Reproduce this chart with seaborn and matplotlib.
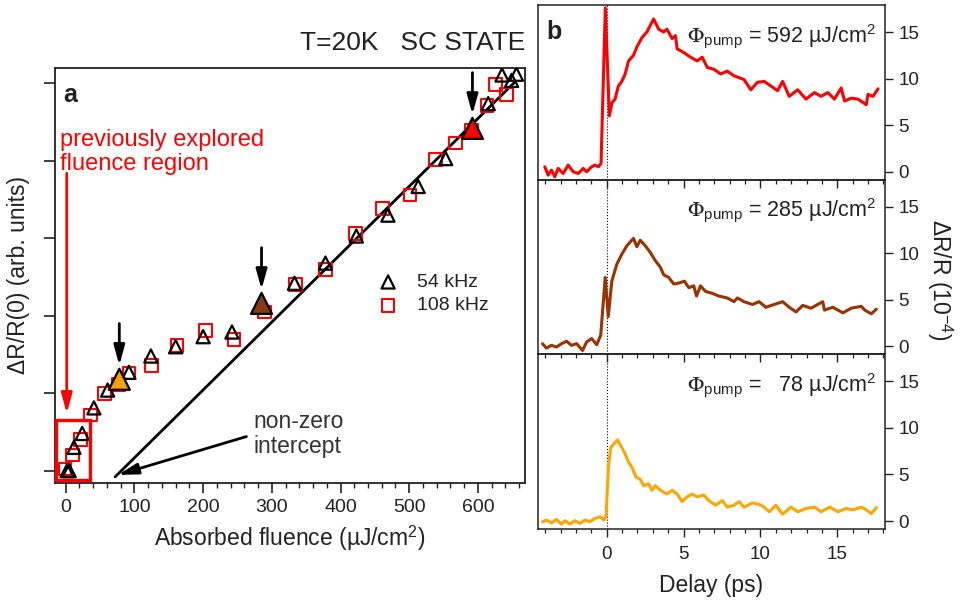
import matplotlib
matplotlib.use('Agg')
import matplotlib.pyplot as plt
import seaborn as sns
from matplotlib.patches import Rectangle
from matplotlib.ticker import MultipleLocator

# ---------------- data: panel a ----------------
fluence_54 = [2, 5, 12, 24, 41, 61, 92, 124, 160, 200, 242, 333, 378, 423, 469, 513, 553, 615, 635, 649, 656]
dr_54 = [0.0, 0.0, 0.30, 0.48, 0.81, 1.04, 1.27, 1.48, 1.60, 1.73, 1.79, 2.42, 2.68, 3.03, 3.30, 3.67, 4.03, 4.74, 5.11, 5.04, 5.12]

fluence_108 = [-1, 10, 22, 36, 56, 77, 92, 125, 162, 203, 245, 289, 334, 378, 422, 461, 501, 538, 567, 591, 613, 626, 642]
dr_108 = [0.02, 0.20, 0.40, 0.72, 1.00, 1.11, 1.26, 1.36, 1.62, 1.81, 1.69, 2.05, 2.40, 2.60, 3.06, 3.39, 3.56, 4.02, 4.23, 4.40, 4.72, 4.99, 4.86]

highlight_fluence = [78, 285, 592]
highlight_dr = [1.18, 2.16, 4.42]
highlight_names = ['78', '285', '592']
highlight_colors = ['#f5a200', '#8b3a0f', '#ff0000']

fit_fluence = [72, 655]
fit_dr = [-0.08, 5.03]

# ---------------- data: panel b ----------------
delay_592 = [-4.03, -3.81, -3.59, -3.38, -3.16, -2.83, -2.51, -2.18, -1.85, -1.53, -1.31, -0.98, -0.76, -0.54, -0.37,
             -0.09, 0.17, 0.34, 0.54, 0.76, 0.98, 1.20, 1.42, 1.74, 1.96, 2.29, 2.61, 3.05, 3.38, 3.70, 3.92, 4.25,
             4.47, 4.58, 5.01, 5.45, 5.88, 6.21, 6.54, 6.97, 7.41, 7.84, 8.28, 8.93, 9.37, 9.80, 10.24, 10.68, 11.11,
             11.44, 11.87, 12.42, 12.96, 13.51, 13.94, 14.38, 14.81, 15.25, 15.47, 15.90, 16.34, 16.88, 16.99, 17.32, 17.65]
signal_592 = [0.54, -0.36, 0.18, -0.54, 0.36, -0.18, 0.72, 0.0, -0.18, 0.36, 0.0, 0.54, 0.72, 0.54, 0.9,
              17.6, 6.0, 7.4, 7.8, 9.2, 9.7, 10.5, 11.9, 12.5, 13.4, 14.4, 15.0, 16.4, 15.3, 15.0, 15.3, 14.3,
              14.6, 13.2, 12.8, 12.3, 11.9, 12.3, 11.2, 11.0, 10.5, 10.8, 10.3, 9.9, 8.8, 9.6, 9.7, 9.2, 8.7,
              9.7, 8.1, 8.8, 7.8, 8.5, 8.1, 8.5, 7.8, 9.0, 7.6, 7.9, 7.8, 7.2, 8.3, 8.1, 8.9]

delay_285 = [-4.18, -3.92, -3.59, -3.27, -2.94, -2.61, -2.29, -1.96, -1.57, -1.31, -0.98, -0.65, -0.39, -0.10, 0.10,
             0.33, 0.65, 0.98, 1.31, 1.74, 1.96, 2.18, 2.51, 2.83, 3.16, 3.49, 3.70, 4.03, 4.36, 4.68,
             5.05, 5.34, 5.66, 5.84, 6.10, 6.43, 6.86, 7.30, 7.84, 8.28, 8.50, 8.93, 9.48, 9.91, 10.35,
             10.89, 11.44, 11.87, 12.31, 12.75, 13.29, 14.05, 14.16, 14.71, 15.36, 15.90, 16.56, 16.78, 17.21, 17.54]
signal_285 = [0.29, -0.18, 0.11, -0.07, 0.29, 0.55, 0.11, 0.29, -0.44, 0.47, 0.84, 0.18, 1.2, 7.4, 3.2,
              7.0, 8.8, 9.9, 10.8, 11.6, 10.7, 11.4, 10.8, 10.1, 9.2, 8.5, 7.7, 7.4, 6.7, 6.8,
              7.0, 6.3, 6.5, 5.4, 6.5, 5.9, 5.7, 5.4, 5.2, 4.8, 5.2, 4.8, 4.5, 4.8, 4.2,
              4.5, 4.8, 4.2, 3.7, 4.4, 4.1, 4.8, 3.9, 4.2, 3.6, 4.1, 4.3, 3.9, 3.5, 4.0]

delay_78 = [-4.18, -3.92, -3.59, -3.27, -2.94, -2.72, -2.40, -2.07, -1.74, -1.42, -1.09, -0.76, -0.44, -0.17, -0.04,
            0.11, 0.26, 0.48, 0.70, 0.98, 1.20, 1.42, 1.63, 1.92, 2.18, 2.40, 2.72, 2.94, 3.16, 3.49,
            3.92, 4.25, 4.58, 4.90, 5.23, 5.56, 5.88, 6.32, 6.64, 7.08, 7.52, 7.84, 8.28, 8.61, 8.93,
            9.48, 9.91, 10.24, 10.57, 11.00, 11.44, 11.98, 12.42, 12.96, 13.51, 13.94, 14.49, 15.03, 15.58, 16.01,
            16.56, 16.88, 17.21, 17.54]
signal_78 = [-0.07, 0.1, -0.18, 0.18, -0.32, 0.04, -0.32, 0.04, -0.25, 0.11, -0.07, 0.28, 0.46, 0.11, 0.64,
             5.8, 7.9, 8.3, 8.7, 7.9, 7.2, 6.3, 5.8, 4.7, 4.5, 3.8, 4.0, 3.3, 3.8, 3.3,
             2.9, 3.3, 2.9, 2.1, 2.6, 2.9, 2.6, 2.8, 2.2, 1.7, 2.2, 1.5, 1.7, 2.1, 1.5,
             1.95, 1.8, 1.5, 1.0, 1.7, 0.74, 1.5, 1.0, 1.35, 1.5, 1.0, 1.5, 1.0, 1.35, 1.2,
             1.5, 1.2, 0.8, 1.45]

trace_names = ['592', '285', '  78']
trace_colors = ['#ff0000', '#993300', '#ffa500']
trace_delays = [delay_592, delay_285, delay_78]
trace_signals = [signal_592, signal_285, signal_78]

# ---------------- style ----------------
sns.set_style('ticks')
TXT = '#222222'
plt.rcParams['font.family'] = ['Liberation Sans', 'DejaVu Sans']
plt.rcParams['mathtext.fontset'] = 'stix'
plt.rcParams['text.color'] = TXT
plt.rcParams['axes.labelcolor'] = TXT
plt.rcParams['xtick.color'] = TXT
plt.rcParams['ytick.color'] = TXT
plt.rcParams['axes.edgecolor'] = TXT

W, H = 961, 602
fig = plt.figure(figsize=(W / 100, H / 100), dpi=100)


def rect(l, t, r, b):
    return [l / W, 1 - b / H, (r - l) / W, (b - t) / H]


ARROW = '-|>,head_length=0.8,head_width=0.22'

# ---------------- panel a ----------------
ax = fig.add_axes(rect(55, 68, 525, 483))
sns.scatterplot(x=fluence_108, y=dr_108, marker='s', s=84, color='none', edgecolor='#ff0000',
                linewidth=1.5, label='108 kHz', ax=ax, zorder=3)
sns.scatterplot(x=fluence_54, y=dr_54, marker='^', s=90, color='none', edgecolor='black',
                linewidth=1.6, label='54 kHz', ax=ax, zorder=4)
sns.lineplot(x=fit_fluence, y=fit_dr, color='black', linewidth=2, ax=ax, zorder=2, estimator=None)
sns.scatterplot(x=highlight_fluence, y=highlight_dr, hue=highlight_names, palette=highlight_colors,
                marker='^', s=230, edgecolor='black', linewidth=1.6, legend=False, ax=ax, zorder=6)

ax.set_xlim(-15.6, 668.5)
ax.set_ylim(-0.16, 5.2)
ax.xaxis.set_major_locator(MultipleLocator(100))
ax.xaxis.set_minor_locator(MultipleLocator(20))
ax.set_yticks(range(6))
ax.set_yticklabels([])
ax.tick_params(axis='x', which='major', direction='out', length=7.5, width=1.2, labelsize=14, pad=4)
ax.tick_params(axis='x', which='minor', direction='out', length=3.6, width=1.0)
ax.tick_params(axis='y', which='major', direction='out', length=7.7, width=1.2)
for sp in ax.spines.values():
    sp.set_linewidth(1.3)
ax.set_xlabel('Absorbed fluence (µJ/cm$^{\\mathregular{2}}$)', fontsize=16.5, labelpad=6)
ax.set_ylabel('ΔR/R(0) (arb. units)', fontsize=16.5, labelpad=7)

h, l = ax.get_legend_handles_labels()
order = [l.index('54 kHz'), l.index('108 kHz')]
ax.legend([h[i] for i in order], [l[i] for i in order], loc='upper left',
          bbox_to_anchor=(0.688, 0.505), frameon=False, fontsize=14, handlelength=1.0,
          handletextpad=1.0, borderpad=0, borderaxespad=0, labelspacing=0.3)

# highlight arrows
for fx, fy in zip(highlight_fluence, highlight_dr):
    ax.annotate('', xy=(fx, fy + 0.18), xytext=(fx, fy + 0.72),
                arrowprops=dict(arrowstyle=ARROW, color='black', lw=2, mutation_scale=15,
                                shrinkA=0, shrinkB=0), zorder=7)

# previously explored region
ax.add_patch(Rectangle((-14.6, -0.12), 50.0, 0.774, fill=False, edgecolor='#ff0000', lw=2.4,
                       clip_on=False, zorder=5))
ax.annotate('', xy=(1.5, 0.74), xytext=(1.5, 3.84),
            arrowprops=dict(arrowstyle=ARROW, color='#ff0000', lw=2, mutation_scale=15,
                            shrinkA=0, shrinkB=0))
ax.text(-8.3, 3.88, 'previously explored\nfluence region', color='#ff0000', fontsize=17,
        ha='left', va='baseline', linespacing=1.12)

ax.text(272.6, 0.229, 'non-zero\nintercept', color='#333333', fontsize=16.5, ha='left',
        va='baseline', linespacing=1.12)
ax.annotate('', xy=(76, -0.055), xytext=(263, 0.44),
            arrowprops=dict(arrowstyle=ARROW, color='black', lw=2, mutation_scale=15,
                            shrinkA=0, shrinkB=0))

ax.text(0.017, 0.918, 'a', transform=ax.transAxes, fontsize=18, fontweight='bold',
        ha='left', va='baseline')
fig.text(525 / W, 1 - 50 / H, 'T=20K   SC STATE', ha='right', va='baseline', fontsize=19)

# ---------------- panel b ----------------
tops = [5, 179.7, 354.3, 529]
axes_b = [None, None, None]
for i in [2, 1, 0]:
    axb = fig.add_axes(rect(538, tops[i], 885, tops[i + 1]))
    axb.patch.set_visible(False)
    axes_b[i] = axb

for i, axb in enumerate(axes_b):
    sns.lineplot(x=trace_delays[i], y=trace_signals[i], color=trace_colors[i], linewidth=2.2,
                 ax=axb, estimator=None)
    axb.axvline(0, color='black', linestyle=':', linewidth=0.8, zorder=0)
    axb.set_xlim(-4.47, 18.1)
    axb.set_ylim(-0.85, 17.9)
    axb.xaxis.set_major_locator(MultipleLocator(5))
    axb.xaxis.set_minor_locator(MultipleLocator(1))
    axb.set_yticks([0, 5, 10, 15])
    axb.yaxis.tick_right()
    axb.tick_params(axis='x', which='major', direction='out', length=5.5, width=1.0,
                    labelsize=13.5, pad=7, labelbottom=(i == 2))
    axb.tick_params(axis='x', which='minor', direction='out', length=3.0, width=0.9)
    axb.tick_params(axis='y', which='major', direction='out', length=5.5, width=1.0,
                    labelsize=13.5, pad=4, left=False, right=True, labelright=True, labelleft=False)
    for sp in axb.spines.values():
        sp.set_linewidth(1.1)
    axb.text(0.975, 0.79,
             '$\\Phi_{\\mathregular{pump}}$ = ' + trace_names[i] + ' µJ/cm$^{\\mathregular{2}}$',
             transform=axb.transAxes, fontsize=15.5, ha='right', va='baseline')
    axb.set_xlabel('')
    axb.set_ylabel('')

axes_b[2].set_xlabel('Delay (ps)', fontsize=16.5, labelpad=8)
axes_b[0].text(0.023, 0.805, 'b', transform=axes_b[0].transAxes, fontsize=18, fontweight='bold',
               ha='left', va='baseline')
fig.text(940 / W, 1 - 280 / H, 'ΔR/R (10$^{\\mathregular{-4}}$)', rotation=-90, ha='center',
         va='center', fontsize=16.5)

fig.savefig('out.png', dpi=100)
